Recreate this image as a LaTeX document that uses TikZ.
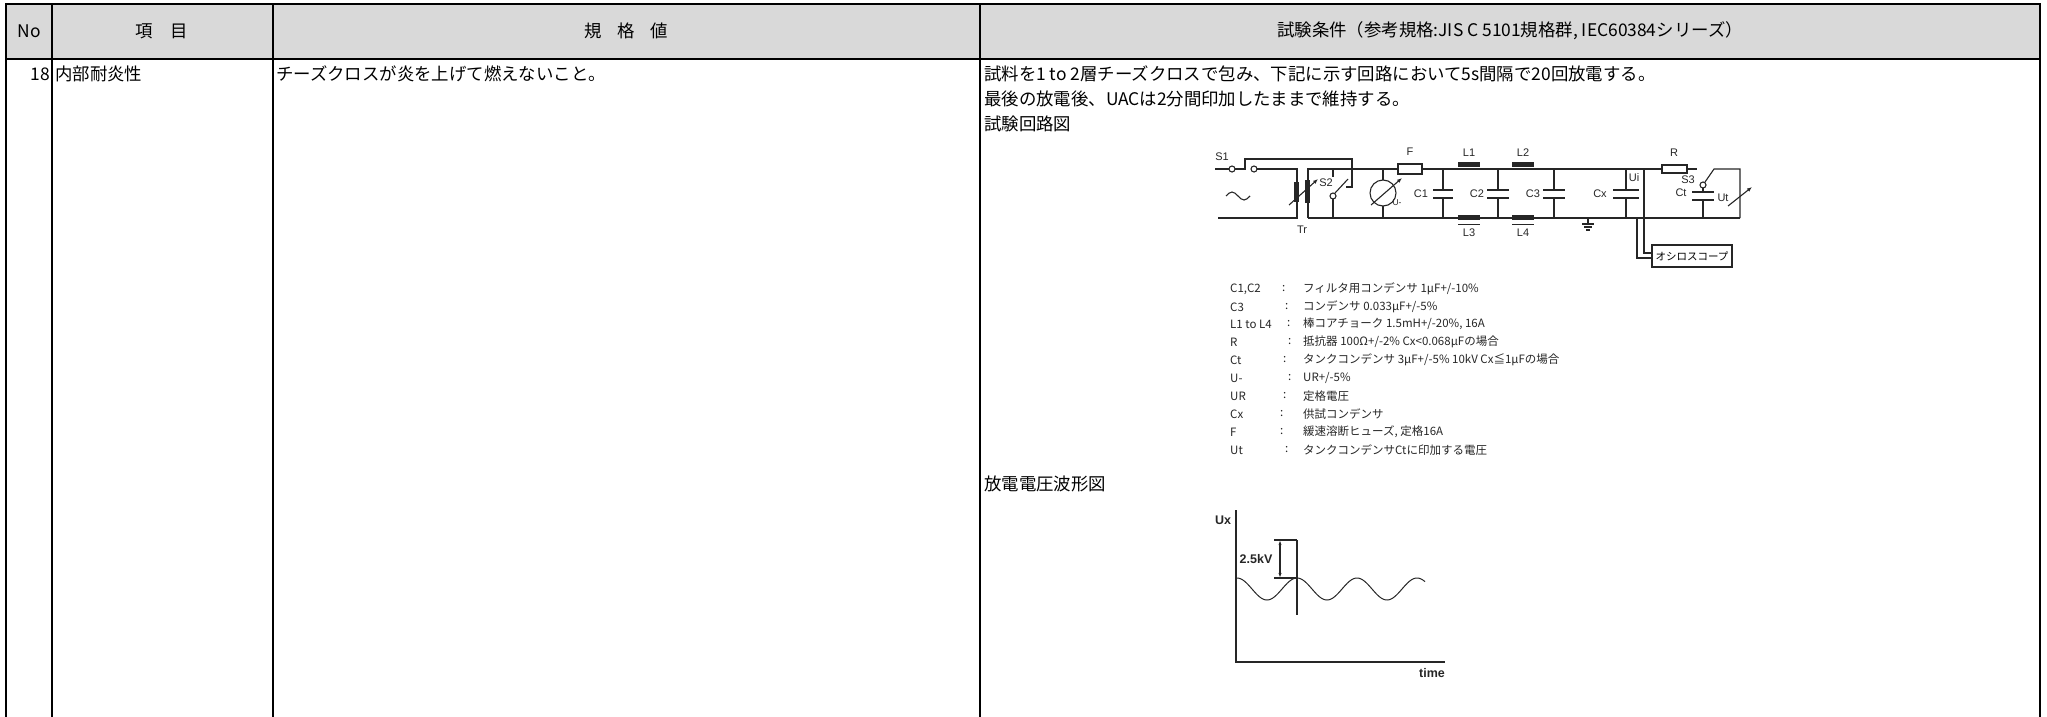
\documentclass[tikz,border=0pt]{standalone}
\usepackage{fontspec}
\setmainfont{Noto Sans CJK JP}
\newfontfamily\arialfont{Liberation Sans}
\usepackage{xcolor}
\usepackage{tikz}
\usetikzlibrary{arrows.meta}

\begin{document}
\begin{tikzpicture}[x=1pt,y=-1pt,
    rule/.style={line width=2pt,black},
    wire/.style={line width=1.1pt,black!85},
    plate/.style={line width=2pt,black!85},
    txt/.style={inner sep=0pt,font=\fontsize{17.4}{20}\selectfont},
    lbl/.style={inner sep=0pt,text=black!85,font=\arialfont\fontsize{11}{12}\selectfont},
    leg/.style={inner sep=0pt,anchor=west,text=black!85,font=\fontsize{11.5}{13}\selectfont},
    wav/.style={inner sep=0pt,font=\arialfont\bfseries\fontsize{12.5}{14}\selectfont}]
    \useasboundingbox (0,0) rectangle (2047,717);

    % Table frame
    \fill[black!15] (6,4) rectangle (2040,59);
    \draw[rule] (6,717) -- (6,4) -- (2040,4) -- (2040,717);
    \draw[rule] (6,59) -- (2040,59);
    \foreach \x in {52,273,980}
        \draw[rule] (\x,4) -- (\x,717);

    % Header row
    \node[txt] (hNo) at (29,31) {No};
    \node[txt] (hItem) at (162,31) {項\hspace{1em}目};
    \node[txt] (hSpec) at (626,31) {規\hspace{0.9em}格\hspace{0.9em}値};
    \node[txt] (hCond) at (1510,31) {試験条件（参考規格:JIS C 5101規格群, IEC60384シリーズ）};

    % Row 18
    \node[txt,anchor=east] (rNo) at (50,74) {18};
    \node[txt,anchor=west] (rItem) at (55,74) {内部耐炎性};
    \node[txt,anchor=west] (rSpec) at (276,74) {チーズクロスが炎を上げて燃えないこと。};
    \node[txt,anchor=west] (rCond1) at (984,74) {試料を1 to 2層チーズクロスで包み、下記に示す回路において5s間隔で20回放電する。};
    \node[txt,anchor=west] (rCond2) at (984,99) {最後の放電後、UACは2分間印加したままで維持する。};
    \node[txt,anchor=west] (rCond3) at (984,124) {試験回路図};
    \node[txt,anchor=west] (rCond4) at (984,484) {放電電圧波形図};

    % Test circuit
    \begin{scope}
        % Source and S1
        \draw[wire] (1215,169) -- (1229,169);
        \draw[wire] (1232,169) circle (3);
        \draw[wire] (1235,169) -- (1245,169) -- (1245,159) -- (1352,159) -- (1352,187) -- (1346,187);
        \draw[wire] (1254,169) circle (3);
        \draw[wire] (1257,169) -- (1297,169) -- (1297,218) -- (1218,218);
        \draw[wire] (1226,196) sin (1232,192) cos (1238,196) sin (1244,200) cos (1250,196);
        \node[lbl] (lS1) at (1222,157) {S1};

        % Transformer Tr
        \fill[black!85] (1294,182) rectangle (1299,202);
        \fill[black!85] (1305,180) rectangle (1310,203);
        \draw[wire] (1308,218) -- (1308,169) -- (1398,169);
        \draw[wire,-{Latex[length=5pt,width=4pt]}] (1289,205) -- (1318,179);
        \node[lbl] (lTr) at (1302,230) {Tr};

        % Switch S2
        \draw[wire] (1333,169) -- (1333,177);
        \draw[wire] (1333,196) circle (3);
        \draw[wire] (1333,199) -- (1333,218);
        \draw[wire] (1335,193) -- (1348,179);
        \node[lbl] (lS2) at (1326,183) {S2};

        % Voltmeter U-
        \draw[wire] (1383,169) -- (1383,218);
        \draw[wire,fill=white] (1383,193) circle (13);
        \draw[wire,-{Latex[length=5pt,width=4pt]}] (1371,205) -- (1402,178);
        \node[lbl,font=\arialfont\fontsize{8.5}{9}\selectfont] (lU) at (1397,203) {U-};

        % Fuse F
        \draw[wire] (1422,169) -- (1662,169);
        \draw[wire,fill=white] (1398,164) rectangle (1422,174);
        \node[lbl] (lF) at (1410,152) {F};

        % Bottom rail
        \draw[wire] (1308,218) -- (1740,218);

        % Capacitors C1, C2, C3, Cx
        \foreach \x/\w/\name in {1443/10/C1,1498/11/C2,1554/11/C3,1626/13/Cx} {
            \draw[wire] (\x,169) -- (\x,190);
            \draw[plate] (\x-\w,190) -- (\x+\w,190);
            \draw[plate] (\x-\w,198) -- (\x+\w,198);
            \draw[wire] (\x,198) -- (\x,218);
        }
        \node[lbl] (lC1) at (1421,194) {C1};
        \node[lbl] (lC2) at (1477,194) {C2};
        \node[lbl] (lC3) at (1533,194) {C3};
        \node[lbl] (lCx) at (1600,194) {Cx};

        % Chokes L1 to L4
        \foreach \x in {1458,1512} {
            \fill[black!85] (\x,162) rectangle (\x+22,167);
            \fill[black!85] (\x,215) rectangle (\x+22,220);
            \draw[wire,line width=0.8pt] (\x,224) -- (\x+22,224);
        }
        \node[lbl] (lL1) at (1469,153) {L1};
        \node[lbl] (lL2) at (1523,153) {L2};
        \node[lbl] (lL3) at (1469,233) {L3};
        \node[lbl] (lL4) at (1523,233) {L4};

        % Ground
        \draw[wire] (1588,218) -- (1588,224);
        \draw[wire] (1582,224) -- (1594,224);
        \draw[wire] (1584,227) -- (1592,227);
        \draw[wire] (1586,230) -- (1590,230);

        % Oscilloscope
        \draw[wire] (1644,169) -- (1644,253) -- (1652,253);
        \draw[wire] (1637,218) -- (1637,258) -- (1652,258);
        \node[draw=black!85,line width=1.1pt,minimum width=80pt,minimum height=22pt,inner sep=0pt,
              font=\fontsize{10.5}{12}\selectfont] (scope) at (1692,256) {オシロスコープ};
        \node[lbl] (lUi) at (1634,178) {Ui};

        % R, S3, Ct and Ut
        \draw[wire,fill=white] (1662,165) rectangle (1687,173);
        \draw[wire] (1687,169) -- (1697,169);
        \node[lbl] (lR) at (1674,153) {R};
        \draw[wire] (1703,185) circle (3);
        \draw[wire] (1705,182) -- (1714,169) -- (1740,169) -- (1740,218);
        \node[lbl] (lS3) at (1688,180) {S3};
        \draw[wire] (1703,188) -- (1703,192);
        \draw[plate] (1692,192) -- (1714,192);
        \draw[plate] (1692,200) -- (1714,200);
        \draw[wire] (1703,200) -- (1703,218);
        \node[lbl] (lCt) at (1681,193) {Ct};
        \node[lbl] (lUt) at (1723,198) {Ut};
        \draw[wire,-{Latex[length=5pt,width=4pt]}] (1728,206) -- (1752,187);
    \end{scope}

    % Legend
    \foreach \y/\key/\cx/\desc [count=\i] in {
        289/{C1,C2}/1282/{フィルタ用コンデンサ 1μF+/-10\%},
        307/C3/1285/{コンデンサ 0.033μF+/-5\%},
        324/{L1 to L4}/1287/{棒コアチョーク 1.5mH+/-20\%, 16A},
        342/R/1288/{抵抗器 100Ω+/-2\% Cx<0.068μFの場合},
        360/Ct/1283/{タンクコンデンサ 3μF+/-5\% 10kV Cx≦1μFの場合},
        378/U-/1288/{UR+/-5\%},
        396/UR/1283/{定格電圧},
        414/Cx/1280/{供試コンデンサ},
        432/F/1280/{緩速溶断ヒューズ, 定格16A},
        450/Ut/1285/{タンクコンデンサCtに印加する電圧}} {
        \node[leg] (key\i) at (1230,\y) {\key};
        \node[leg] (col\i) at (\cx,\y) {:};
        \node[leg] (desc\i) at (1303,\y) {\desc};
    }

    % Discharge waveform
    \begin{scope}[line width=1.2pt,black!85]
        \draw (1236,510) -- (1236,662) -- (1445,662);
        \draw[line width=1pt] plot[domain=1237:1425,samples=120] (\x,{589-11*cos(6*(\x-1237))});
        \draw (1297,540) -- (1297,615);
        \draw (1274,540) -- (1297,540);
        \draw (1274,578) -- (1297,578);
        \draw[{Stealth[length=4pt]}-{Stealth[length=4pt]}] (1280,541) -- (1280,577);
        \node[wav] (wUx) at (1223,520) {Ux};
        \node[wav] (wKv) at (1256,559) {2.5kV};
        \node[wav] (wTime) at (1432,673) {time};
    \end{scope}
\end{tikzpicture}
\end{document}
